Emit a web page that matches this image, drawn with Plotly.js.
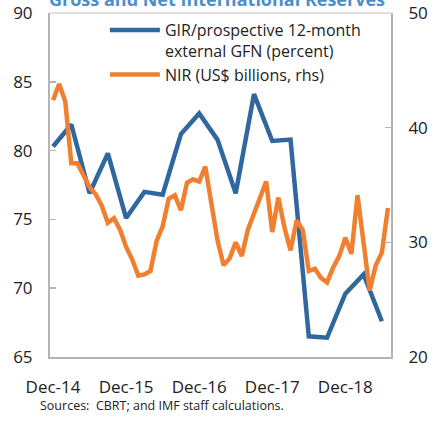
<!DOCTYPE html>
<html>
<head>
<meta charset="utf-8">
<script src="https://cdn.plot.ly/plotly-3.0.1.min.js"></script>
<style>html,body{margin:0;padding:0;background:#fff;}#chart{width:434px;height:422px;}</style>
</head>
<body>
<div id="chart"></div>
<script>
// Monthly index: 0 = Dec-14 ... 55 = Jul-19
const tickLabels = ["Dec-14", "Dec-15", "Dec-16", "Dec-17", "Dec-18"];
const tickPositions = [0, 12, 24, 36, 48];

// GIR / prospective 12-month external GFN (percent), quarterly (Dec-14 .. Jun-19)
const girMonths = [0, 3, 6, 9, 12, 15, 18, 21, 24, 27, 30, 33, 36, 39, 42, 45, 48, 51, 54];
const girValues = [80.3, 81.9, 76.9, 79.8, 75.1, 77.0, 76.8, 81.2, 82.7, 80.8, 76.9, 84.1, 80.7, 80.8, 66.5, 66.4, 69.6, 71.0, 67.6];

// NIR (US$ billions, rhs), monthly (Dec-14 .. Jul-19)
const nirValues = [42.4, 43.8, 42.3, 36.9, 36.9, 35.9, 34.8, 34.2, 33.2, 31.7, 32.1, 31.1,
  29.6, 28.5, 27.1, 27.2, 27.5, 30.1, 31.4, 33.8, 34.1, 32.8, 35.2, 35.5,
  35.3, 36.6, 33.1, 30.2, 28.0, 28.6, 30.0, 28.8, 31.1, 32.5, 33.9, 35.3,
  30.9, 33.9, 31.3, 29.3, 31.9, 31.1, 27.5, 27.7, 26.9, 26.5, 27.8, 28.8,
  30.4, 29.0, 34.1, 30.0, 25.8, 28.0, 29.1, 33.0];
const nirMonths = nirValues.map((v, i) => i);

const FONT = "Open Sans, Noto Sans, sans-serif";
const AXIS_GRAY = "#B4B4B4";

const traces = [
  {
    x: girMonths, y: girValues, type: "scatter", mode: "lines",
    name: "GIR/prospective 12-month<br>external GFN (percent)",
    line: {color: "#2F679E", width: 4.5}, yaxis: "y"
  },
  {
    x: nirMonths, y: nirValues, type: "scatter", mode: "lines",
    name: "NIR (US$ billions, rhs)",
    line: {color: "#F0802F", width: 4.5}, yaxis: "y2"
  }
];

const layout = {
  width: 434, height: 422,
  margin: {l: 50, r: 43, t: 13, b: 65},
  paper_bgcolor: "#fff", plot_bgcolor: "#fff",
  font: {family: FONT, color: "#222", size: 17},
  title: {
    text: "<b>Gross and Net International Reserves</b>",
    font: {family: FONT, size: 18, color: "#4A8FCB"},
    x: 0.5, xref: "container", y: 1.0, yref: "container", yanchor: "middle"
  },
  showlegend: true,
  legend: {
    x: 0.161, xanchor: "left", y: 1.0, yanchor: "top",
    bgcolor: "rgba(0,0,0,0)", borderwidth: 0,
    font: {family: FONT, size: 16, color: "#222"},
    valign: "top", tracegroupgap: 0, itemwidth: 50
  },
  xaxis: {
    range: [-0.5, 55.5], tickmode: "array",
    tickvals: tickPositions, ticktext: tickLabels,
    ticks: "", showgrid: false, zeroline: false,
    showline: true, linecolor: AXIS_GRAY, linewidth: 2,
    ticklabelstandoff: 14,
    tickfont: {family: FONT, size: 17, color: "#222"}
  },
  xaxis2: {
    overlaying: "x", range: [-0.5, 55.5], tickmode: "array",
    tickvals: [11.5, 23.5, 35.5, 47.5], ticktext: ["", "", "", ""],
    ticks: "inside", ticklen: 6, tickwidth: 1.5, tickcolor: AXIS_GRAY,
    showgrid: false, zeroline: false, showline: false, side: "bottom", anchor: "y"
  },
  yaxis: {
    range: [65, 90], tickvals: [65, 70, 75, 80, 85, 90],
    ticks: "inside", ticklen: 6, tickwidth: 1.5, tickcolor: AXIS_GRAY,
    showgrid: false, zeroline: false,
    showline: true, linecolor: AXIS_GRAY, linewidth: 2,
    ticklabelstandoff: 12,
    tickfont: {family: FONT, size: 17, color: "#222"}
  },
  yaxis2: {
    range: [20, 50], tickvals: [20, 30, 40, 50], overlaying: "y", side: "right",
    ticks: "inside", ticklen: 6, tickwidth: 1.5, tickcolor: AXIS_GRAY,
    showgrid: false, zeroline: false,
    showline: true, linecolor: AXIS_GRAY, linewidth: 2,
    ticklabelstandoff: 12,
    tickfont: {family: FONT, size: 17, color: "#222"}
  },
  shapes: [
    {type: "line", xref: "paper", yref: "paper", x0: 0, x1: 1, y0: 1, y1: 1,
     line: {color: "#D6D6D6", width: 1.5}}
  ],
  annotations: [
    {text: "Sources:  CBRT; and IMF staff calculations.", xref: "paper", yref: "paper",
     x: -12 / 341, y: -48 / 344, xanchor: "left", yanchor: "middle", showarrow: false,
     font: {family: FONT, size: 12.5, color: "#222"}}
  ]
};

Plotly.newPlot("chart", traces, layout, {displayModeBar: false, staticPlot: true});
</script>
</body>
</html>
